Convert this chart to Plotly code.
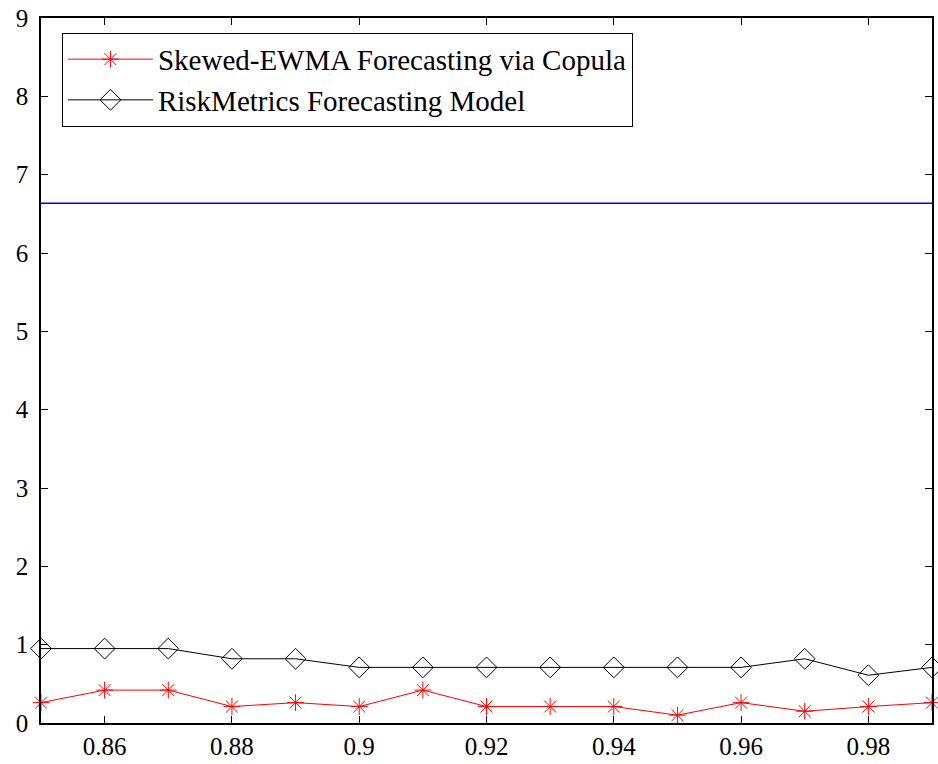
import plotly.graph_objects as go

x_vals = [0.85, 0.86, 0.87, 0.88, 0.89, 0.90, 0.91, 0.92, 0.93, 0.94, 0.95, 0.96, 0.97, 0.98, 0.99]
skewed_ewma = [0.26, 0.42, 0.42, 0.21, 0.26, 0.21, 0.42, 0.21, 0.21, 0.21, 0.10, 0.26, 0.15, 0.21, 0.26]
riskmetrics = [0.95, 0.95, 0.95, 0.82, 0.82, 0.71, 0.71, 0.71, 0.71, 0.71, 0.71, 0.71, 0.82, 0.61, 0.71]
critical_x = [0.85, 0.99]
critical_y = [6.635, 6.635]
x_ticks = [0.86, 0.88, 0.90, 0.92, 0.94, 0.96, 0.98]
x_tick_text = ["0.86", "0.88", "0.9", "0.92", "0.94", "0.96", "0.98"]
y_ticks = [0, 1, 2, 3, 4, 5, 6, 7, 8, 9]

SERIF = "Liberation Serif, serif"

fig = go.Figure()
fig.add_trace(go.Scatter(
    x=x_vals, y=skewed_ewma, mode="lines+markers",
    name="Skewed-EWMA Forecasting via Copula",
    line=dict(color="#ff0000", width=1),
    marker=dict(symbol="asterisk-open", size=14, color="#ff0000", line=dict(color="#ff0000", width=1)),
    cliponaxis=False,
))
fig.add_trace(go.Scatter(
    x=x_vals, y=riskmetrics, mode="lines+markers",
    name="RiskMetrics Forecasting Model",
    line=dict(color="#000000", width=1),
    marker=dict(symbol="diamond-open", size=16, color="#000000", line=dict(color="#000000", width=1)),
    cliponaxis=False,
))
fig.add_trace(go.Scatter(
    x=critical_x, y=critical_y, mode="lines",
    line=dict(color="#0000ff", width=1.3),
    showlegend=False, hoverinfo="skip",
))

axis_common = dict(
    showgrid=False, zeroline=False, showline=True, linecolor="#000000", linewidth=1.5,
    mirror="ticks", ticks="inside", ticklen=7, tickcolor="#000000",
    tickfont=dict(family=SERIF, size=25, color="#000000"),
)
fig.update_xaxes(range=[0.85, 0.99], tickvals=x_ticks, ticktext=x_tick_text, **axis_common)
fig.update_yaxes(range=[0, 9], tickvals=y_ticks, ticklabelstandoff=6, **axis_common)

fig.update_layout(
    width=938, height=764,
    margin=dict(l=41, r=4, t=18, b=36),
    plot_bgcolor="#ffffff", paper_bgcolor="#ffffff",
    font=dict(family=SERIF, size=25, color="#000000"),
    legend=dict(
        x=0.0235, y=0.979, xanchor="left", yanchor="top",
        bgcolor="#ffffff", bordercolor="#000000", borderwidth=1,
        font=dict(family=SERIF, size=29, color="#000000"),
        itemwidth=85, tracegroupgap=0,
    ),
    showlegend=True,
)

fig.write_html("out.html")
